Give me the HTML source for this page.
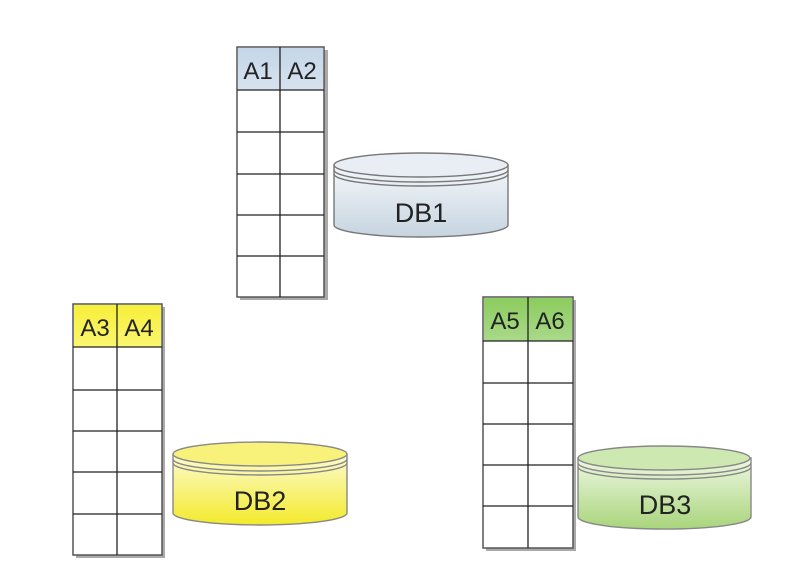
<!DOCTYPE html>
<html><head><meta charset="utf-8"><style>
html,body{margin:0;padding:0;background:#fff;width:807px;height:578px;overflow:hidden}
text{font-family:"Liberation Sans",sans-serif;fill:#222}
</style></head><body>
<svg width="807" height="578" viewBox="0 0 807 578" xmlns="http://www.w3.org/2000/svg">
<defs>
<linearGradient id="gb" x1="0" y1="0" x2="0" y2="1"><stop offset="0" stop-color="#f4f7fa"/><stop offset="1" stop-color="#c6d4e0"/></linearGradient>
<linearGradient id="gy" x1="0" y1="0" x2="0" y2="1"><stop offset="0" stop-color="#fdfbd0"/><stop offset="1" stop-color="#f3ea2a"/></linearGradient>
<linearGradient id="gg" x1="0" y1="0" x2="0" y2="1"><stop offset="0" stop-color="#eef7e2"/><stop offset="1" stop-color="#a9d57c"/></linearGradient>
<linearGradient id="hb" x1="0" y1="0" x2="0" y2="1"><stop offset="0" stop-color="#c5d6e8"/><stop offset="1" stop-color="#d6e2ef"/></linearGradient>
<linearGradient id="hy" x1="0" y1="0" x2="0" y2="1"><stop offset="0" stop-color="#f6ef3a"/><stop offset="1" stop-color="#fbf670"/></linearGradient>
<linearGradient id="hg" x1="0" y1="0" x2="0" y2="1"><stop offset="0" stop-color="#8ccc5e"/><stop offset="1" stop-color="#a9d98a"/></linearGradient>
</defs>

<!-- Table 1 -->
<g>
<rect x="240" y="50" width="88" height="250" fill="#aaa"/>
<rect x="237" y="47" width="87" height="250" fill="#fff" stroke="#555" stroke-width="1.5"/>
<rect x="238" y="48" width="85" height="42" fill="url(#hb)"/>
<g stroke="#222" stroke-width="1.3">
<line x1="280" y1="47" x2="280" y2="297"/>
<line x1="237" y1="90" x2="324" y2="90"/>
<line x1="237" y1="132" x2="324" y2="132"/>
<line x1="237" y1="174" x2="324" y2="174"/>
<line x1="237" y1="215" x2="324" y2="215"/>
<line x1="237" y1="256" x2="324" y2="256"/>
</g>
<text x="258" y="79" font-size="24" text-anchor="middle">A1</text>
<text x="302" y="79" font-size="24" text-anchor="middle">A2</text>
</g>

<!-- Table 2 -->
<g>
<rect x="76" y="307" width="89" height="251" fill="#aaa"/>
<rect x="73" y="304" width="89" height="251" fill="#fff" stroke="#555" stroke-width="1.5"/>
<rect x="74" y="305" width="87" height="42" fill="url(#hy)"/>
<g stroke="#222" stroke-width="1.3">
<line x1="117" y1="304" x2="117" y2="555"/>
<line x1="73" y1="347" x2="162" y2="347"/>
<line x1="73" y1="390" x2="162" y2="390"/>
<line x1="73" y1="431" x2="162" y2="431"/>
<line x1="73" y1="472" x2="162" y2="472"/>
<line x1="73" y1="514" x2="162" y2="514"/>
</g>
<text x="95" y="336" font-size="24" text-anchor="middle">A3</text>
<text x="139" y="336" font-size="24" text-anchor="middle">A4</text>
</g>

<!-- Table 3 -->
<g>
<rect x="486" y="300" width="90" height="251" fill="#aaa"/>
<rect x="483" y="297" width="90" height="251" fill="#fff" stroke="#555" stroke-width="1.5"/>
<rect x="484" y="298" width="88" height="43" fill="url(#hg)"/>
<g stroke="#222" stroke-width="1.3">
<line x1="528" y1="297" x2="528" y2="548"/>
<line x1="483" y1="341" x2="573" y2="341"/>
<line x1="483" y1="383" x2="573" y2="383"/>
<line x1="483" y1="424" x2="573" y2="424"/>
<line x1="483" y1="465" x2="573" y2="465"/>
<line x1="483" y1="506" x2="573" y2="506"/>
</g>
<text x="505" y="329" font-size="24" text-anchor="middle">A5</text>
<text x="550" y="329" font-size="24" text-anchor="middle">A6</text>
</g>

<!-- DB1 -->
<g stroke="#777" stroke-width="1.4">
<path d="M334 165 L334 225 A87 12 0 0 0 508 225 L508 165 Z" fill="url(#gb)"/>
<ellipse cx="421" cy="165" rx="87" ry="12" fill="#e8eef4"/>
<path d="M334 170 A87 12 0 0 0 508 170" fill="none"/>
<path d="M334 174 A87 12 0 0 0 508 174" fill="none"/>
</g>
<text x="421" y="222" font-size="27" text-anchor="middle">DB1</text>

<!-- DB2 -->
<g stroke="#888" stroke-width="1.4">
<path d="M173 454 L173 513 A87 12 0 0 0 347 513 L347 454 Z" fill="url(#gy)"/>
<ellipse cx="260" cy="454" rx="87" ry="12" fill="#f8f27a"/>
<path d="M173 459 A87 12 0 0 0 347 459" fill="none"/>
<path d="M173 463 A87 12 0 0 0 347 463" fill="none"/>
</g>
<text x="260" y="510" font-size="27" text-anchor="middle">DB2</text>

<!-- DB3 -->
<g stroke="#888" stroke-width="1.4">
<path d="M578 458 L578 517 A86 12 0 0 0 751 517 L751 458 Z" fill="url(#gg)"/>
<ellipse cx="664" cy="458" rx="86" ry="12" fill="#cde8b0"/>
<path d="M578 463 A86 12 0 0 0 751 463" fill="none"/>
<path d="M578 467 A86 12 0 0 0 751 467" fill="none"/>
</g>
<text x="665" y="514" font-size="27" text-anchor="middle">DB3</text>
</svg>
</body></html>
